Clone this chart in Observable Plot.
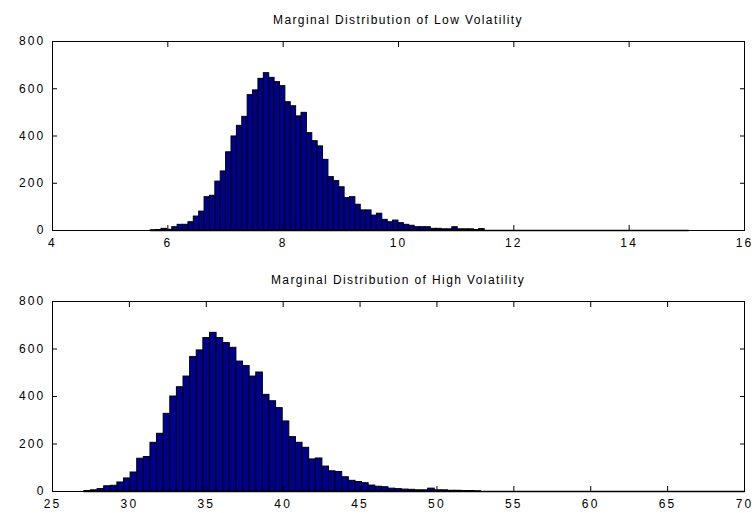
<!DOCTYPE html>
<html>
<head>
<meta charset="utf-8">
<script src="https://cdn.jsdelivr.net/npm/d3@7"></script>
<script src="https://cdn.jsdelivr.net/npm/@observablehq/plot@0.6"></script>
<style>
  html, body { margin: 0; padding: 0; background: #fff; }
  #wrap { position: relative; width: 756px; height: 513px; overflow: hidden; background: #fff; }
  .title { position: absolute; left: 52px; width: 692px; text-align: center;
           font-family: "Liberation Sans", Arial, sans-serif; font-size: 12px;
           letter-spacing: 1.4px; line-height: 12px; color: #000; white-space: nowrap; }
  .panel { position: absolute; left: 0; }
</style>
</head>
<body>
<div id="wrap">
  <div class="title" id="t1" style="top:14px"></div>
  <div class="panel" id="p1" style="top:0px"></div>
  <div class="title" id="t2" style="top:274px"></div>
  <div class="panel" id="p2" style="top:260px"></div>
</div>
<script>
// ---- data ----
const lowTitle = "Marginal Distribution of Low Volatility";
const highTitle = "Marginal Distribution of High Volatility";

const lowBinStart = 5.703;
const lowBinWidth = 0.0934;
const lowCounts = [
  1, 2, 7, 3, 14, 24, 24, 35, 59, 80,
  141, 147, 207, 250, 331, 398, 443, 481, 573, 593,
  642, 666, 646, 628, 611, 543, 526, 483, 498, 412,
  378, 356, 299, 226, 209, 183, 137, 141, 109, 85,
  85, 63, 71, 45, 35, 42, 31, 24, 20, 14,
  14, 14, 7, 7, 5, 5, 14, 5, 5, 5,
  2, 6, 0, 0, 0, 0, 0, 0, 0, 0,
  0, 0, 0, 0, 0, 0, 0, 0, 0, 0,
  0, 0, 0, 0, 0, 0, 0, 0, 0, 0,
  0, 0, 0, 0, 0, 0, 0, 0, 0, 0
];

const highBinStart = 27.07;
const highBinWidth = 0.43;
const highCounts = [
  2, 5, 10, 22, 24, 38, 55, 80, 138, 145,
  205, 243, 327, 400, 439, 484, 566, 594, 646, 668,
  646, 625, 605, 547, 528, 484, 501, 407, 380, 351,
  295, 229, 205, 184, 135, 139, 105, 85, 82, 60,
  45, 40, 35, 25, 20, 18, 12, 10, 8, 7,
  5, 5, 12, 5, 5, 3, 3, 2, 2, 1,
  0, 0, 0, 0, 0, 0, 0, 0, 0, 0,
  0, 0, 0, 0, 0, 0, 0, 0, 0, 0,
  0, 0, 0, 0, 0, 0, 0, 0, 0, 0,
  0, 0, 0, 0, 0, 0, 0, 0, 0, 0
];

const lowXDomain = [4, 16];
const lowXTicks = [4, 6, 8, 10, 12, 14, 16];
const highXDomain = [25, 70];
const highXTicks = [25, 30, 35, 40, 45, 50, 55, 60, 65, 70];
const yDomain = [0, 800];
const yTicks = [0, 200, 400, 600, 800];

function bins(counts, start, w) {
  return counts.map((c, i) => ({x1: start + i * w, x2: start + (i + 1) * w, count: c}));
}

function hist(counts, start, w, xDomain, xTicks, height, mt, mb) {
  const data = bins(counts, start, w);
  return Plot.plot({
    width: 756,
    height,
    marginLeft: 52,
    marginRight: 12,
    marginTop: mt,
    marginBottom: mb,
    x: {domain: xDomain},
    y: {domain: yDomain},
    style: {fontFamily: "'Liberation Sans', Arial, sans-serif", fontSize: "12px", color: "#000", background: "transparent", letterSpacing: "2.2px", overflow: "visible"},
    marks: [
      Plot.rect(data, {x1: "x1", x2: "x2", y1: 0, y2: "count", fill: "#00008f", stroke: "#000", strokeWidth: 1}),
      // baseline edges of the histogram (also shows zero-count bins)
      Plot.ruleY([0], {x1: data[0].x1, x2: data[data.length - 1].x2, stroke: "#000", strokeWidth: 1.6}),
      Plot.frame({stroke: "#000", strokeWidth: 1}),
      Plot.axisX(xTicks, {anchor: "bottom", tickSize: -5, tickPadding: 13, label: null}),
      Plot.axisX(xTicks, {anchor: "top", tickSize: -5, tickFormat: () => "", label: null}),
      Plot.axisY(yTicks, {anchor: "left", tickSize: -5, tickPadding: 12, label: null}),
      Plot.axisY(yTicks, {anchor: "right", tickSize: -5, tickFormat: () => "", label: null})
    ]
  });
}

document.getElementById("t1").textContent = lowTitle;
document.getElementById("t2").textContent = highTitle;
document.getElementById("p1").append(hist(lowCounts, lowBinStart, lowBinWidth, lowXDomain, lowXTicks, 260, 41, 30));
document.getElementById("p2").append(hist(highCounts, highBinStart, highBinWidth, highXDomain, highXTicks, 253, 41, 22));
</script>
</body>
</html>
